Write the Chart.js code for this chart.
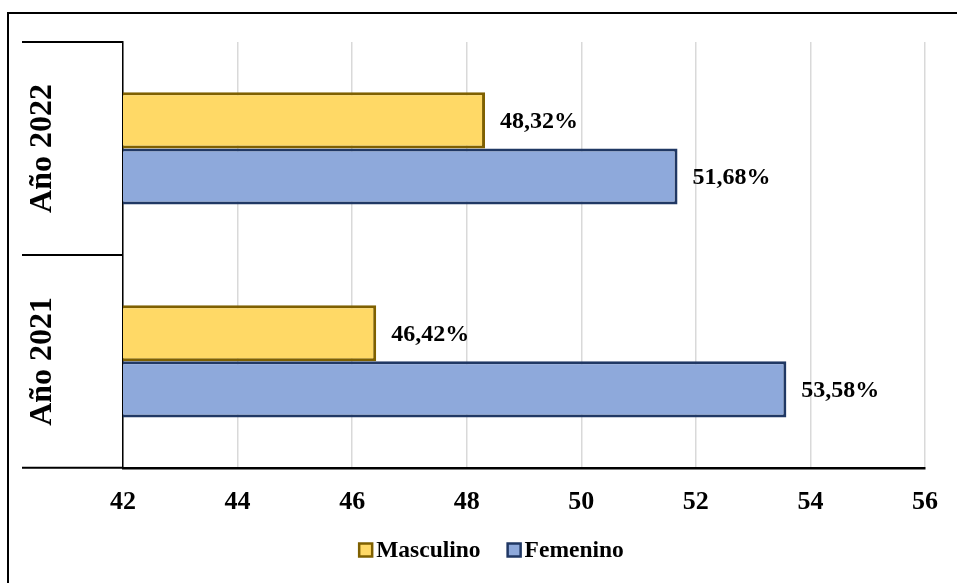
<!DOCTYPE html>
<html>
<head>
<meta charset="utf-8">
<script src="https://cdn.jsdelivr.net/npm/chart.js@4/dist/chart.umd.min.js"></script>
<style>
  html, body { margin: 0; padding: 0; background: #fff; }
  #wrap { position: relative; width: 957px; height: 583px; overflow: hidden; }
  #frame { position: absolute; left: 7px; top: 12px; width: 1000px; height: 700px;
           border-left: 2px solid #000; border-top: 2px solid #000; pointer-events: none; }
  canvas { position: absolute; left: 0; top: 0; }
</style>
</head>
<body>
<div id="wrap">
  <canvas id="c" width="957" height="583"></canvas>
  <div id="frame"></div>
</div>
<script>
const categories = ["Año 2022", "Año 2021"];
const masculino = [48.32, 46.42];
const femenino = [51.68, 53.58];
const seriesNames = ["Masculino", "Femenino"];
const xTicks = [42, 44, 46, 48, 50, 52, 54, 56];

const FONT = "'Liberation Serif', 'Times New Roman', serif";

const fmt = v => v.toFixed(2).replace('.', ',') + '%';

const decorPlugin = {
  id: 'decor',
  afterDraw(chart) {
    const ctx = chart.ctx;
    const ca = chart.chartArea;
    const y = chart.scales.y;
    const leftX = 22;
    ctx.save();
    // category separators
    ctx.strokeStyle = '#000';
    ctx.lineWidth = 2;
    const n = categories.length;
    const step = (ca.bottom - ca.top) / n;
    for (let i = 0; i <= n; i++) {
      const yy = ca.top + step * i;
      ctx.beginPath();
      ctx.moveTo(leftX, yy);
      ctx.lineTo(ca.left, yy);
      ctx.stroke();
    }
    // category labels (rotated)
    ctx.fillStyle = '#000';
    ctx.font = "bold 32px " + FONT;
    ctx.textAlign = 'center';
    ctx.textBaseline = 'middle';
    categories.forEach((c, i) => {
      const cy = y.getPixelForValue(i);
      ctx.save();
      ctx.translate(43, cy);
      ctx.rotate(-Math.PI / 2);
      ctx.fillText(c, 0, 0);
      ctx.restore();
    });
    // data labels
    ctx.font = "bold 24px " + FONT;
    ctx.textAlign = 'left';
    chart.data.datasets.forEach((ds, di) => {
      const meta = chart.getDatasetMeta(di);
      meta.data.forEach((bar, i) => {
        ctx.fillText(fmt(ds.data[i]), bar.x + 15, bar.y + 1);
      });
    });
    // legend
    ctx.font = "bold 23.5px " + FONT;
    ctx.textBaseline = 'middle';
    const box = 13, gapBox = 4, gapItem = 27;
    const widths = seriesNames.map(s => ctx.measureText(s).width);
    let total = 0;
    widths.forEach((w, i) => { total += box + gapBox + w + (i < widths.length - 1 ? gapItem : 0); });
    let lx = 491.5 - total / 2;
    const ly = 550;
    chart.data.datasets.forEach((ds, i) => {
      ctx.fillStyle = ds.backgroundColor;
      ctx.fillRect(lx, ly - box / 2, box, box);
      ctx.strokeStyle = ds.borderColor;
      ctx.lineWidth = 2.5;
      ctx.strokeRect(lx, ly - box / 2, box, box);
      ctx.fillStyle = '#000';
      ctx.fillText(seriesNames[i], lx + box + gapBox, ly + 1);
      lx += box + gapBox + widths[i] + gapItem;
    });
    ctx.restore();
  }
};

new Chart(document.getElementById('c'), {
  type: 'bar',
  data: {
    labels: categories,
    datasets: [
      { label: seriesNames[0], data: masculino, backgroundColor: '#FFD966', borderColor: '#7F6000',
        borderWidth: 3, borderSkipped: false, categoryPercentage: 0.527, barPercentage: 1 },
      { label: seriesNames[1], data: femenino, backgroundColor: '#8EA9DB', borderColor: '#203864',
        borderWidth: 3, borderSkipped: false, categoryPercentage: 0.527, barPercentage: 1 }
    ]
  },
  options: {
    indexAxis: 'y',
    responsive: false,
    animation: false,
    layout: { padding: { left: 22, right: 32, top: 42, bottom: 46 } },
    scales: {
      x: {
        min: 42, max: 56,
        afterBuildTicks: s => { s.ticks = xTicks.map(v => ({ value: v })); },
        grid: { color: '#d9d9d9', lineWidth: 1.5, drawTicks: false },
        border: { color: '#000', width: 2.5 },
        ticks: { color: '#000', padding: 19, font: { family: FONT, size: 26, weight: 'bold' } }
      },
      y: {
        afterFit: s => { s.width = 101; },
        grid: { display: false, drawTicks: false },
        border: { color: '#000', width: 1.5 },
        ticks: { display: false }
      }
    },
    plugins: {
      legend: { display: false },
      tooltip: { enabled: false }
    }
  },
  plugins: [decorPlugin]
});
</script>
</body>
</html>
